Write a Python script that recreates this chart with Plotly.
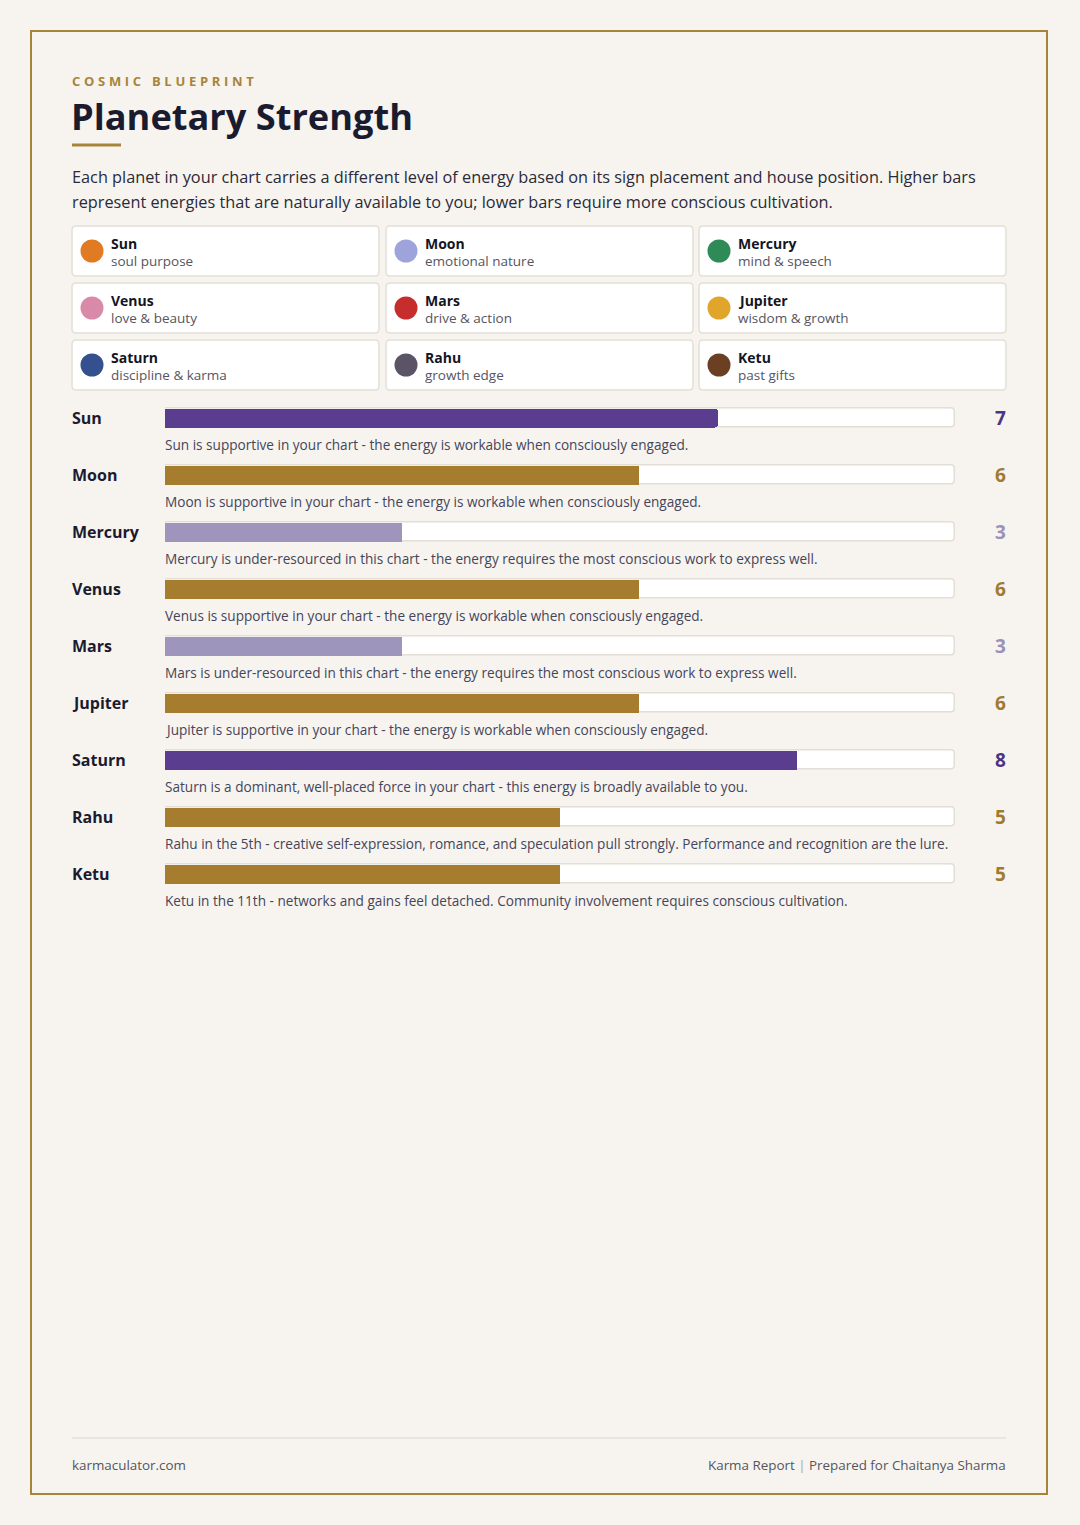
import plotly.graph_objects as go

W, H = 1080, 1525

# ---------------- data ----------------
planets = ["Sun", "Moon", "Mercury", "Venus", "Mars", "Jupiter", "Saturn", "Rahu", "Ketu"]
strength = [7, 6, 3, 6, 3, 6, 8, 5, 5]
descriptions = [
    "Sun is supportive in your chart - the energy is workable when consciously engaged.",
    "Moon is supportive in your chart - the energy is workable when consciously engaged.",
    "Mercury is under-resourced in this chart - the energy requires the most conscious work to express well.",
    "Venus is supportive in your chart - the energy is workable when consciously engaged.",
    "Mars is under-resourced in this chart - the energy requires the most conscious work to express well.",
    "Jupiter is supportive in your chart - the energy is workable when consciously engaged.",
    "Saturn is a dominant, well-placed force in your chart - this energy is broadly available to you.",
    "Rahu in the 5th - creative self-expression, romance, and speculation pull strongly. Performance and recognition are the lure.",
    "Ketu in the 11th - networks and gains feel detached. Community involvement requires conscious cultivation.",
]
max_strength = 10

legend_names = ["Sun", "Moon", "Mercury", "Venus", "Mars", "Jupiter", "Saturn", "Rahu", "Ketu"]
legend_subs = ["soul purpose", "emotional nature", "mind & speech", "love & beauty", "drive & action",
               "wisdom & growth", "discipline & karma", "growth edge", "past gifts"]
legend_colors = ["#e07b24", "#9ea3dc", "#2e8b57", "#d98aa8", "#c62d2d", "#e0a52a", "#34508f", "#5a5466", "#6b3f22"]

kicker = "COSMIC BLUEPRINT"
title = "Planetary Strength"
intro_lines = [
    "Each planet in your chart carries a different level of energy based on its sign placement and house position. Higher bars",
    "represent energies that are naturally available to you; lower bars require more conscious cultivation.",
]
footer_left = "karmaculator.com"
footer_right = "Karma Report <span style='color:#aaa6a0'>|</span> Prepared for Chaitanya Sharma"

# ---------------- styles ----------------
BG = "#f7f4ef"
GOLD = "#a8843a"
FONT = "Open Sans"
DARK = "#1b1b2f"
PAD = -2  # compensate annotation padding


def level_color(v):
    if v >= 7:
        return "#5b3d8f"
    if v >= 4:
        return "#a67c2e"
    return "#9d95bb"


def value_color(v):
    if v >= 7:
        return "#4b3483"
    if v >= 4:
        return "#a07a30"
    return "#9a92b8"


def rrect(x0, y0, x1, y1, r):
    return (f"M{x0+r},{y0} L{x1-r},{y0} Q{x1},{y0} {x1},{y0+r} L{x1},{y1-r} Q{x1},{y1} {x1-r},{y1} "
            f"L{x0+r},{y1} Q{x0},{y1} {x0},{y1-r} L{x0},{y0+r} Q{x0},{y0} {x0+r},{y0} Z")


fig = go.Figure()

# ---------------- bars (x / y axes) ----------------
row_top, row_step = 418, 57
n = len(planets)
y_dom = [1 - (row_top + (n - 1) * row_step + row_step / 2) / H, 1 - (row_top - row_step / 2) / H]
x_dom = [165 / W, 955 / W]

fig.add_trace(go.Bar(
    y=planets, x=[max_strength] * n, orientation="h", width=0.35,
    marker=dict(color="white", line=dict(color="#e3ded6", width=1.5), cornerradius=4),
    hoverinfo="skip", showlegend=False, xaxis="x", yaxis="y",
))
fig.add_trace(go.Bar(
    y=planets, x=strength, orientation="h", width=0.33,
    marker=dict(color=[level_color(v) for v in strength], line=dict(width=0), cornerradius=3),
    showlegend=False, xaxis="x", yaxis="y",
))

for p, v, d in zip(planets, strength, descriptions):
    fig.add_annotation(x=72 / W, xref="paper", y=p, yref="y", xshift=PAD, text=f"<b>{p}</b>", showarrow=False,
                       xanchor="left", yanchor="middle", font=dict(family=FONT, size=16, color=DARK))
    fig.add_annotation(x=1000 / W, xref="paper", y=p, yref="y", text=f"<b>{v}</b>", showarrow=False,
                       xanchor="center", yanchor="middle", font=dict(family=FONT, size=19, color=value_color(v)))
    fig.add_annotation(x=165 / W, xref="paper", y=p, yref="y", yshift=-26, xshift=PAD, text=d, showarrow=False,
                       xanchor="left", yanchor="middle", font=dict(family=FONT, size=13.6, color="#45455a"))

# ---------------- page frame & legend (pixel axes x2 / y2) ----------------
col_x = [72, 386, 699]
row_y = [226, 283, 340]
card_w, card_h = 307, 50

shapes = [
    dict(type="rect", xref="x2", yref="y2", x0=31, y0=31, x1=1047, y1=1494,
         line=dict(color=GOLD, width=2), fillcolor="rgba(0,0,0,0)", layer="below"),
    dict(type="line", xref="x2", yref="y2", x0=72, x1=121, y0=145, y1=145, line=dict(color=GOLD, width=3)),
    dict(type="line", xref="x2", yref="y2", x0=72, x1=1006, y0=1438, y1=1438, line=dict(color="#e6e2da", width=1.5)),
]

dot_x, dot_y = [], []
for i, (nm, sub) in enumerate(zip(legend_names, legend_subs)):
    cx, cy = col_x[i % 3], row_y[i // 3]
    shapes.append(dict(type="path", xref="x2", yref="y2", path=rrect(cx, cy, cx + card_w, cy + card_h, 4),
                       fillcolor="white", line=dict(color="#e4dfd6", width=1.5), layer="below"))
    dot_x.append(cx + 20)
    dot_y.append(cy + 25)
    fig.add_annotation(x=cx + 39, y=cy + 17, xref="x2", yref="y2", xshift=PAD, text=f"<b>{nm}</b>", showarrow=False,
                       xanchor="left", yanchor="middle", font=dict(family=FONT, size=14, color="#15151f"))
    fig.add_annotation(x=cx + 39, y=cy + 35, xref="x2", yref="y2", xshift=PAD, text=sub, showarrow=False,
                       xanchor="left", yanchor="middle", font=dict(family=FONT, size=13.5, color="#55555f"))

fig.add_trace(go.Scatter(
    x=dot_x, y=dot_y, mode="markers", xaxis="x2", yaxis="y2",
    marker=dict(size=23, color=legend_colors, line=dict(width=0)),
    hovertext=legend_names, hoverinfo="text", showlegend=False,
))

# header text
fig.add_annotation(x=72, y=81, xref="x2", yref="y2", xshift=PAD, showarrow=False, xanchor="left", yanchor="middle",
                   text=f"<span style='letter-spacing:3.7px'><b>{kicker}</b></span>",
                   font=dict(family=FONT, size=13, color=GOLD))
fig.add_annotation(x=71, y=116, xref="x2", yref="y2", xshift=PAD, showarrow=False, xanchor="left", yanchor="middle",
                   text=f"<b>{title}</b>", font=dict(family=FONT, size=36.2, color=DARK))
for k, line in enumerate(intro_lines):
    fig.add_annotation(x=72, y=177 + 25 * k, xref="x2", yref="y2", xshift=PAD, showarrow=False,
                       xanchor="left", yanchor="middle", text=line, align="left",
                       font=dict(family=FONT, size=16.3, color="#2a2a38"))

# footer
fig.add_annotation(x=72, y=1465, xref="x2", yref="y2", xshift=PAD, showarrow=False, xanchor="left", yanchor="middle",
                   text=footer_left, font=dict(family=FONT, size=13.4, color="#55555f"))
fig.add_annotation(x=1006, y=1465, xref="x2", yref="y2", xshift=2, showarrow=False, xanchor="right", yanchor="middle",
                   text=footer_right, font=dict(family=FONT, size=13.4, color="#55555f"))

fig.update_layout(
    width=W, height=H, margin=dict(l=0, r=0, t=0, b=0),
    paper_bgcolor=BG, plot_bgcolor="rgba(0,0,0,0)",
    barmode="overlay", bargap=0, showlegend=False,
    font=dict(family=FONT),
    shapes=shapes,
    xaxis=dict(domain=x_dom, range=[0, max_strength], visible=False, fixedrange=True),
    yaxis=dict(domain=y_dom, range=[n - 0.5, -0.5], visible=False, fixedrange=True,
               categoryorder="array", categoryarray=planets),
    xaxis2=dict(domain=[0, 1], range=[0, W], visible=False, anchor="y2", fixedrange=True),
    yaxis2=dict(domain=[0, 1], range=[H, 0], visible=False, anchor="x2", fixedrange=True),
)

fig.write_html("out.html")
